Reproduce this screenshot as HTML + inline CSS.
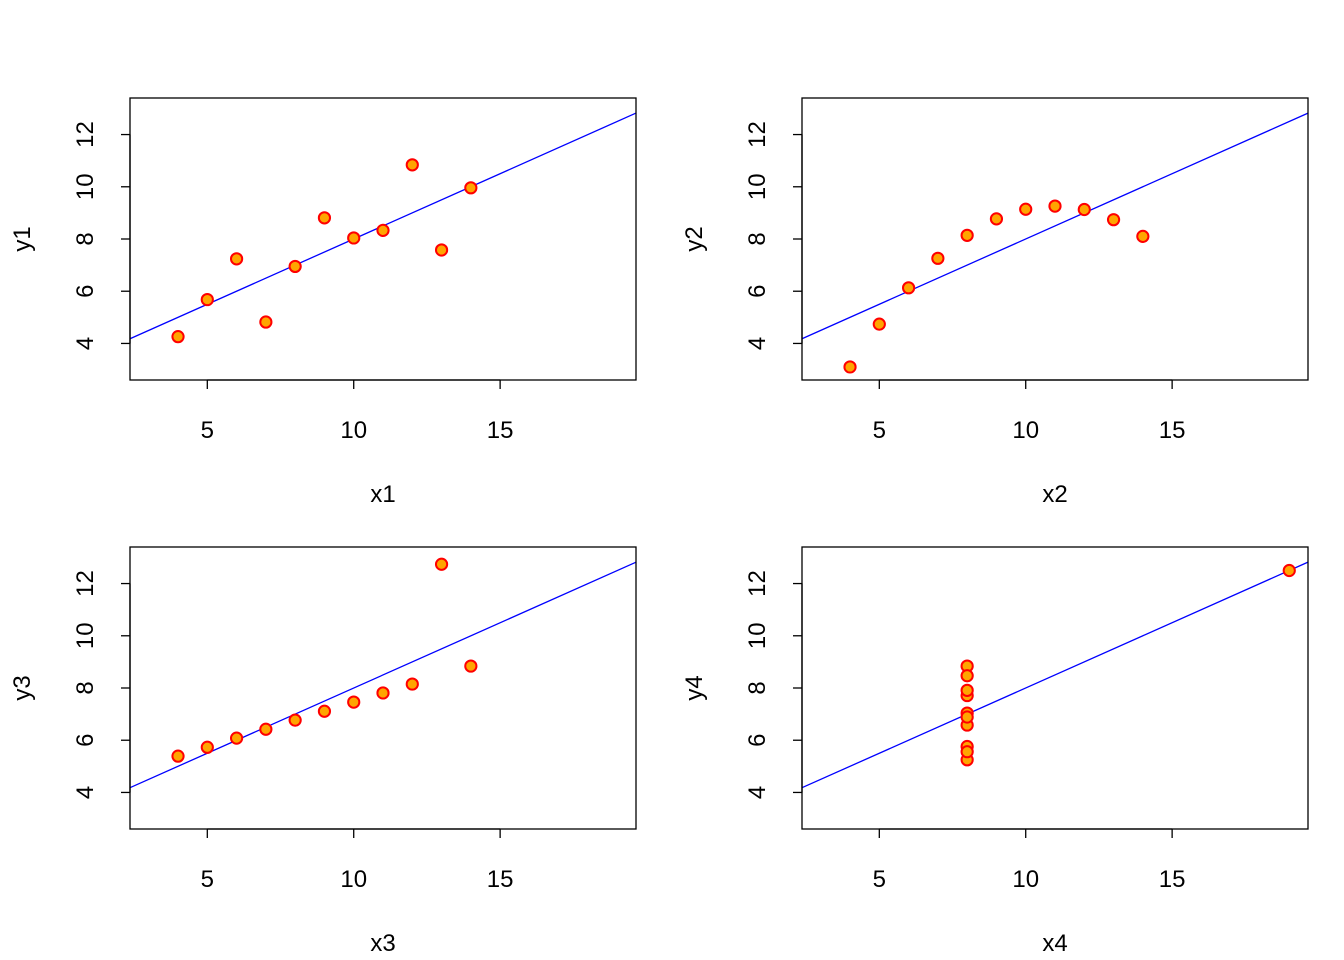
<!DOCTYPE html>
<html><head><meta charset="utf-8"><style>
html,body{margin:0;padding:0;background:#fff;}
svg{display:block;font-family:"Liberation Sans",Arial,sans-serif;}
</style></head><body>
<svg id="chart" width="1344" height="960" viewBox="0 0 1344 960" xmlns="http://www.w3.org/2000/svg"></svg>
<script>
const x123 = [10,8,13,9,11,14,6,4,12,7,5];
const x4 = [8,8,8,8,8,8,8,19,8,8,8];
const y1 = [8.04,6.95,7.58,8.81,8.33,9.96,7.24,4.26,10.84,4.82,5.68];
const y2 = [9.14,8.14,8.74,8.77,9.26,8.10,6.13,3.10,9.13,7.26,4.74];
const y3 = [7.46,6.77,12.74,7.11,7.81,8.84,6.08,5.39,8.15,6.42,5.73];
const y4 = [6.58,5.76,7.71,8.84,8.47,7.04,5.25,12.50,5.56,7.91,6.89];
const xTicks = [5,10,15];
const yTicks = [4,6,8,10,12];
const xLim = [3,19], yLim = [3,13];

const svg = document.getElementById('chart');
const NS = 'http://www.w3.org/2000/svg';
function mk(tag, attrs, parent){const e=document.createElementNS(NS,tag);for(const k in attrs)e.setAttribute(k,attrs[k]);parent.appendChild(e);return e;}

const panels = [
  {x:x123,y:y1,xl:'x1',yl:'y1',ox:0,oy:0},
  {x:x123,y:y2,xl:'x2',yl:'y2',ox:672,oy:0},
  {x:x123,y:y3,xl:'x3',yl:'y3',ox:0,oy:449},
  {x:x4,y:y4,xl:'x4',yl:'y4',ox:672,oy:449}
];
const L=130,R=636,T=98,B=380;
panels.forEach((p,i)=>{
  const g = mk('g',{transform:`translate(${p.ox},${p.oy})`},svg);
  
  
  const xr=(xLim[1]-xLim[0])*0.04, yr=(yLim[1]-yLim[0])*0.04;
  const x0=xLim[0]-xr,x1=xLim[1]+xr,y0=yLim[0]-yr,y1_=yLim[1]+yr;
  const sx=v=>L+(v-x0)/(x1-x0)*(R-L);
  const sy=v=>B-(v-y0)/(y1_-y0)*(B-T);
  const cid='clip'+i;
  const cp=mk('clipPath',{id:cid},g); mk('rect',{x:L,y:T,width:R-L,height:B-T},cp);
  const n=p.x.length, mx=p.x.reduce((a,b)=>a+b)/n, my=p.y.reduce((a,b)=>a+b)/n;
  let sxy=0,sxx=0; for(let k=0;k<n;k++){sxy+=(p.x[k]-mx)*(p.y[k]-my);sxx+=(p.x[k]-mx)**2;}
  const b=sxy/sxx,a=my-b*mx;
  const ln=mk('line',{x1:sx(x0),y1:sy(a+b*x0),x2:sx(x1),y2:sy(a+b*x1),stroke:'#0000ff','stroke-width':1.3,'clip-path':`url(#${cid})`},g);
  
  
  for(let k=0;k<n;k++){
    const c=mk('circle',{cx:sx(p.x[k]),cy:sy(p.y[k]),r:5.6,fill:'#ffa500',stroke:'#ff0000','stroke-width':2},g);
    
    
  }
  const box=mk('rect',{x:L,y:T,width:R-L,height:B-T,fill:'none',stroke:'#000','stroke-width':1.3},g);
  
  
  mk('line',{x1:sx(xTicks[0]),y1:B,x2:sx(xTicks[xTicks.length-1]),y2:B,stroke:'#000','stroke-width':1.3},g);
  xTicks.forEach(t=>{
    mk('line',{x1:sx(t),y1:B,x2:sx(t),y2:B+9,stroke:'#000','stroke-width':1.3},g);
    const tx=mk('text',{x:sx(t),y:438,'text-anchor':'middle','font-size':24},g);
    tx.textContent=t;
    
    
  });
  mk('line',{x1:L,y1:sy(yTicks[0]),x2:L,y2:sy(yTicks[yTicks.length-1]),stroke:'#000','stroke-width':1.3},g);
  yTicks.forEach(t=>{
    mk('line',{x1:L-9,y1:sy(t),x2:L,y2:sy(t),stroke:'#000','stroke-width':1.3},g);
    const tx=mk('text',{x:0,y:0,'text-anchor':'middle','font-size':24,transform:`translate(93,${sy(t)}) rotate(-90)`},g);
    tx.textContent=t;
    
    
  });
  const xt=mk('text',{x:(L+R)/2,y:502,'text-anchor':'middle','font-size':24},g);
  xt.textContent=p.xl;
  
  
  const yt=mk('text',{x:0,y:0,'text-anchor':'middle','font-size':24,transform:`translate(30,${(T+B)/2}) rotate(-90)`},g);
  yt.textContent=p.yl;
  
  
});
</script>
</body></html>
